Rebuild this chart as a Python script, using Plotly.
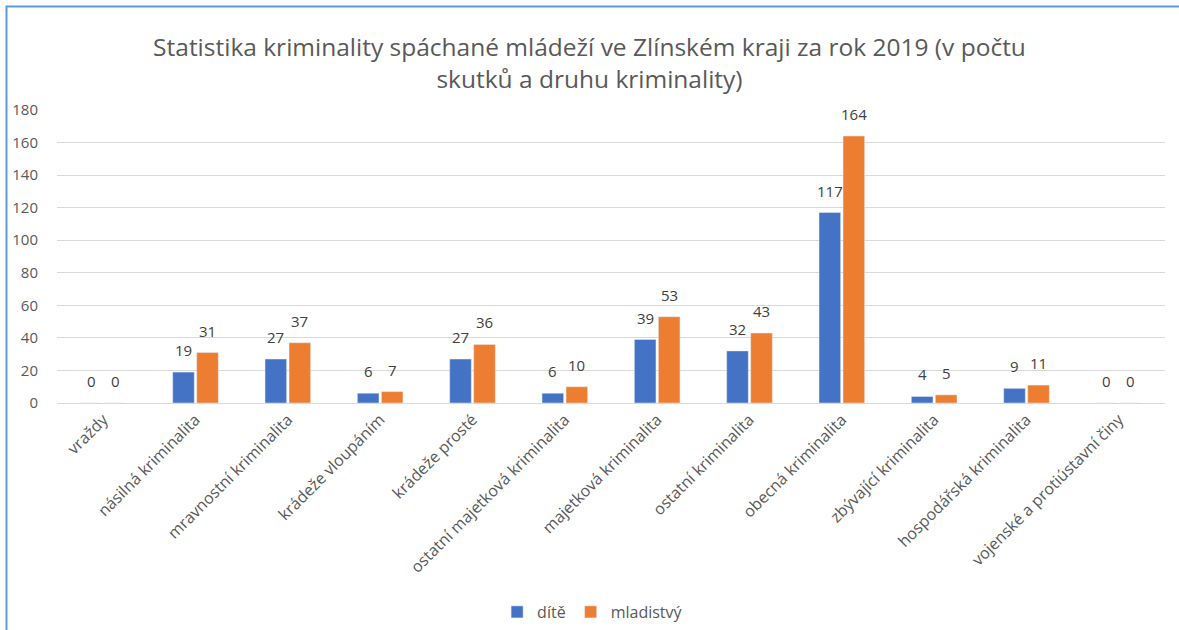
import plotly.graph_objects as go

categories = ["vraždy", "násilná kriminalita", "mravnostní kriminalita", "krádeže vloupáním",
              "krádeže prosté", "ostatní majetková kriminalita", "majetková kriminalita",
              "ostatní kriminalita", "obecná kriminalita", "zbývající kriminalita",
              "hospodářská kriminalita", "vojenské a protiústavní činy"]
dite = [0, 19, 27, 6, 27, 6, 39, 32, 117, 4, 9, 0]
mladistvy = [0, 31, 37, 7, 36, 10, 53, 43, 164, 5, 11, 0]
y_ticks = [0, 20, 40, 60, 80, 100, 120, 140, 160, 180]

W, H = 1179, 630
ML, MR, MT, MB = 57, 14, 110, 227
PW, PH = W - ML - MR, H - MT - MB

def px(x):
    return (x - ML) / PW

def py(y):
    return (H - MB - y) / PH

font_family = "'Open Sans', sans-serif"
label_font = dict(size=15, color="#404040", family=font_family)

fig = go.Figure()
fig.add_trace(go.Bar(name="dítě", x=categories, y=dite, marker_color="#4472C4"))
fig.add_trace(go.Bar(name="mladistvý", x=categories, y=mladistvy, marker_color="#ED7D31"))

# data labels above bars (offset to each bar of the group)
for values, shift in ((dite, -12), (mladistvy, 12)):
    for cat, val in zip(categories, values):
        fig.add_annotation(x=cat, y=val, text=str(val), showarrow=False,
                           xshift=shift, yshift=10, yanchor="bottom",
                           font=label_font)

fig.update_layout(
    width=W, height=H,
    margin=dict(l=ML, r=MR, t=MT, b=MB, autoexpand=False),
    paper_bgcolor="white", plot_bgcolor="white",
    font=dict(family=font_family, color="#595959", size=14),
    barmode="group", bargap=0.48, bargroupgap=0.1,
    title=dict(text="Statistika kriminality spáchané mládeží ve Zlínském kraji za rok 2019 (v počtu<br>skutků a druhu kriminality)",
               x=0.5, xanchor="center", y=1 - 56 / H, yanchor="top",
               font=dict(size=24.5, color="#595959", family=font_family)),
    legend=dict(orientation="h", x=0.4834, xanchor="center", y=py(612), yanchor="middle",
                font=dict(size=16, color="#595959"), itemwidth=30, tracegroupgap=0),
)
fig.update_yaxes(range=[0, 180], tickvals=y_ticks, showgrid=True, gridcolor="#D9D9D9",
                 gridwidth=1, zeroline=False, showline=False, ticks="",
                 ticklabelstandoff=18, automargin=False,
                 tickfont=dict(size=15, color="#595959"), fixedrange=True)
fig.update_xaxes(tickangle=-45, showline=True, linecolor="#D9D9D9", linewidth=1,
                 automargin=False,
                 tickfont=dict(size=16, color="#595959"), ticks="")

fig.add_shape(type="rect", xref="paper", yref="paper",
              x0=px(6.5), x1=px(1300), y0=py(700), y1=py(6.5),
              line=dict(color="#5B9BD5", width=2), fillcolor="rgba(0,0,0,0)", layer="above")

fig.write_html("out.html", config={"displayModeBar": False},
               post_script="document.body.style.margin='0';")
